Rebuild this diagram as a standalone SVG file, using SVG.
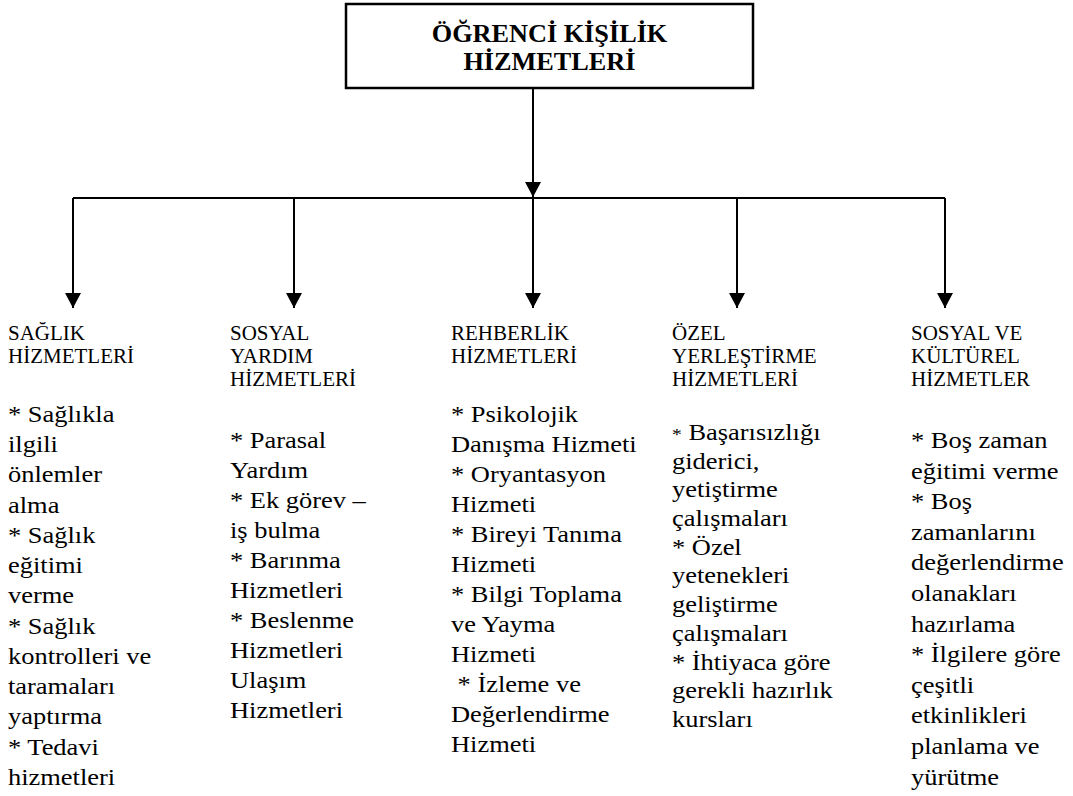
<svg xmlns="http://www.w3.org/2000/svg" width="1073" height="796" viewBox="0 0 1073 796">
<style>
text{font-family:"Liberation Serif","Times New Roman",serif;fill:#000}
.t{font-size:25px;font-weight:bold;text-anchor:middle}
.h{font-size:21px}
.b{font-size:23px}
.ln{stroke:#000;stroke-width:2;fill:none}
</style>
<defs>
<marker id="ah" markerUnits="userSpaceOnUse" markerWidth="15" markerHeight="16" viewBox="0 0 15 16" refX="15" refY="8" orient="auto">
<path d="M0,0 L15,8 L0,16 Z" fill="#000"/>
</marker>
</defs>
<rect width="1073" height="796" fill="#fff"/>
<g id="root">
<rect x="346" y="4" width="407" height="84" fill="#fff" stroke="#000" stroke-width="2.5"/>
<text class="t" transform="translate(549.5,42) scale(1.05,1)">ÖĞRENCİ KİŞİLİK</text>
<text class="t" transform="translate(549.5,70) scale(1.05,1)">HİZMETLERİ</text>
</g>
<g id="connectors">
<path class="ln" d="M533,88 V197" marker-end="url(#ah)"/>
<path class="ln" d="M73,198 H945"/>
<path class="ln" d="M73,198 V308" marker-end="url(#ah)"/>
<path class="ln" d="M294,198 V308" marker-end="url(#ah)"/>
<path class="ln" d="M533,198 V308" marker-end="url(#ah)"/>
<path class="ln" d="M737,198 V308" marker-end="url(#ah)"/>
<path class="ln" d="M945,198 V308" marker-end="url(#ah)"/>
</g>
<g id="saglik">
<text class="h"><tspan x="8" y="340">SAĞLIK</tspan><tspan x="8" y="363">HİZMETLERİ</tspan></text>
<text class="b" transform="translate(8,422) scale(1.15,1)"><tspan x="0" y="0">* Sağlıkla</tspan><tspan x="0" y="30.25">ilgili</tspan><tspan x="0" y="60.5">önlemler</tspan><tspan x="0" y="90.75">alma</tspan><tspan x="0" y="121">* Sağlık</tspan><tspan x="0" y="151.25">eğitimi</tspan><tspan x="0" y="181.5">verme</tspan><tspan x="0" y="211.75">* Sağlık</tspan><tspan x="0" y="242">kontrolleri ve</tspan><tspan x="0" y="272.25">taramaları</tspan><tspan x="0" y="302.5">yaptırma</tspan><tspan x="0" y="332.75">* Tedavi</tspan><tspan x="0" y="363">hizmetleri</tspan></text>
</g>
<g id="sosyal-yardim">
<text class="h"><tspan x="230" y="340">SOSYAL</tspan><tspan x="230" y="363">YARDIM</tspan><tspan x="230" y="386">HİZMETLERİ</tspan></text>
<text class="b" transform="translate(230,448) scale(1.15,1)"><tspan x="0" y="0">* Parasal</tspan><tspan x="0" y="30">Yardım</tspan><tspan x="0" y="60">* Ek görev –</tspan><tspan x="0" y="90">iş bulma</tspan><tspan x="0" y="120">* Barınma</tspan><tspan x="0" y="150">Hizmetleri</tspan><tspan x="0" y="180">* Beslenme</tspan><tspan x="0" y="210">Hizmetleri</tspan><tspan x="0" y="240">Ulaşım</tspan><tspan x="0" y="270">Hizmetleri</tspan></text>
</g>
<g id="rehberlik">
<text class="h"><tspan x="451" y="340">REHBERLİK</tspan><tspan x="451" y="363">HİZMETLERİ</tspan></text>
<text class="b" transform="translate(451,422) scale(1.15,1)"><tspan x="0" y="0">* Psikolojik</tspan><tspan x="0" y="30">Danışma Hizmeti</tspan><tspan x="0" y="60">* Oryantasyon</tspan><tspan x="0" y="90">Hizmeti</tspan><tspan x="0" y="120">* Bireyi Tanıma</tspan><tspan x="0" y="150">Hizmeti</tspan><tspan x="0" y="180">* Bilgi Toplama</tspan><tspan x="0" y="210">ve Yayma</tspan><tspan x="0" y="240">Hizmeti</tspan><tspan x="5.75" y="270">* İzleme ve</tspan><tspan x="0" y="300">Değerlendirme</tspan><tspan x="0" y="330">Hizmeti</tspan></text>
</g>
<g id="ozel-yerlestirme">
<text class="h"><tspan x="672" y="340">ÖZEL</tspan><tspan x="672" y="363">YERLEŞTİRME</tspan><tspan x="672" y="386">HİZMETLERİ</tspan></text>
<text class="b" transform="translate(672,440) scale(1.15,1)"><tspan x="0" y="0"><tspan font-size="17">*</tspan> Başarısızlığı</tspan><tspan x="0" y="28.7">giderici,</tspan><tspan x="0" y="57.4">yetiştirme</tspan><tspan x="0" y="86.1">çalışmaları</tspan><tspan x="0" y="114.8">* Özel</tspan><tspan x="0" y="143.5">yetenekleri</tspan><tspan x="0" y="172.2">geliştirme</tspan><tspan x="0" y="200.9">çalışmaları</tspan><tspan x="0" y="229.6">* İhtiyaca göre</tspan><tspan x="0" y="258.3">gerekli hazırlık</tspan><tspan x="0" y="287">kursları</tspan></text>
</g>
<g id="sosyal-kulturel">
<text class="h"><tspan x="911" y="340">SOSYAL VE</tspan><tspan x="911" y="363">KÜLTÜREL</tspan><tspan x="911" y="386">HİZMETLER</tspan></text>
<text class="b" transform="translate(911,448) scale(1.15,1)"><tspan x="0" y="0">* Boş zaman</tspan><tspan x="0" y="30.6">eğitimi verme</tspan><tspan x="0" y="61.2">* Boş</tspan><tspan x="0" y="91.8">zamanlarını</tspan><tspan x="0" y="122.4">değerlendirme</tspan><tspan x="0" y="153">olanakları</tspan><tspan x="0" y="183.6">hazırlama</tspan><tspan x="0" y="214.2">* İlgilere göre</tspan><tspan x="0" y="244.8">çeşitli</tspan><tspan x="0" y="275.4">etkinlikleri</tspan><tspan x="0" y="306">planlama ve</tspan><tspan x="0" y="336.6">yürütme</tspan></text>
</g>
</svg>
